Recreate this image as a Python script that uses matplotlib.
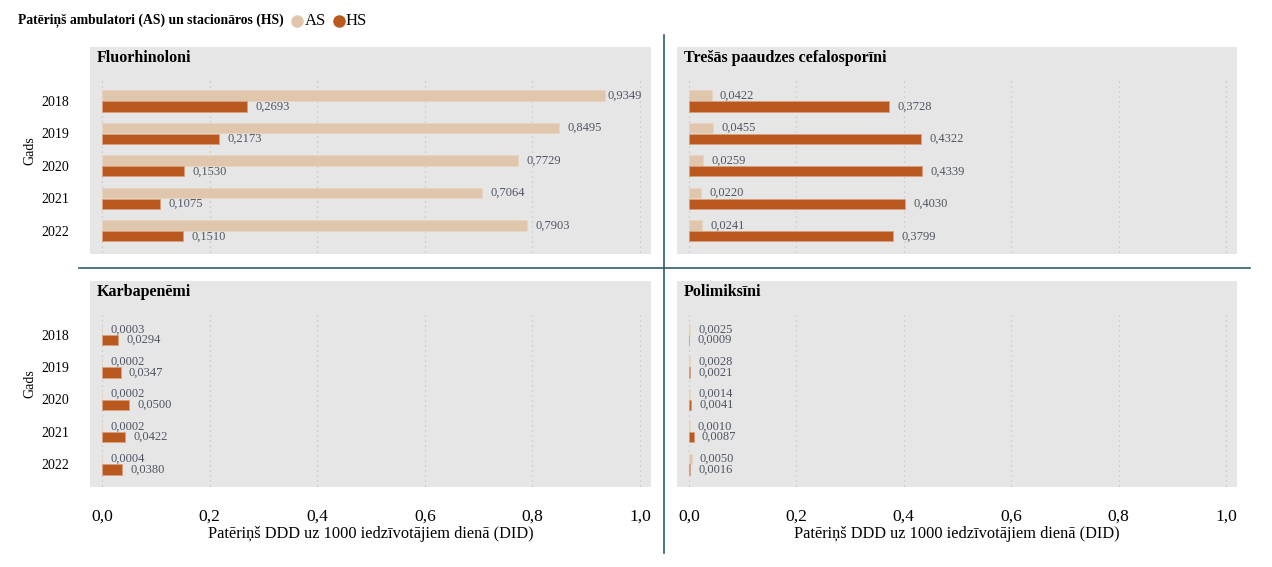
import numpy as np
import matplotlib.pyplot as plt
from matplotlib.lines import Line2D

plt.rcParams["font.family"] = ["Liberation Serif", "DejaVu Serif"]

years = ["2018", "2019", "2020", "2021", "2022"]
panel_titles = ["Fluorhinoloni", "Trešās paaudzes cefalosporīni", "Karbapenēmi", "Polimiksīni"]
as_values = [
    [0.9349, 0.8495, 0.7729, 0.7064, 0.7903],
    [0.0422, 0.0455, 0.0259, 0.0220, 0.0241],
    [0.0003, 0.0002, 0.0002, 0.0002, 0.0004],
    [0.0025, 0.0028, 0.0014, 0.0010, 0.0050],
]
hs_values = [
    [0.2693, 0.2173, 0.1530, 0.1075, 0.1510],
    [0.3728, 0.4322, 0.4339, 0.4030, 0.3799],
    [0.0294, 0.0347, 0.0500, 0.0422, 0.0380],
    [0.0009, 0.0021, 0.0041, 0.0087, 0.0016],
]
x_ticks = [0.0, 0.2, 0.4, 0.6, 0.8, 1.0]

AS_COLOR = "#e0c6ad"
HS_COLOR = "#b9591f"
PANEL_BG = "#e6e6e6"
LABEL_COLOR = "#4f5562"
LINE_COLOR = "#2f5f66"

W, H = 1272, 567
fig = plt.figure(figsize=(W / 100, H / 100), dpi=100)

# panel boxes in pixels: (left, top, right, bottom)
boxes = [(90, 47, 651, 254), (677, 47, 1237, 254), (90, 281, 651, 487), (677, 281, 1237, 487)]


def fmt(v, digits=4):
    return f"{v:.{digits}f}".replace(".", ",")


def put_label(ax, value, ypos):
    # labels near the right edge are pulled in so they stay inside the panel
    off = 1.5 if value > 0.9 else 6
    ax.annotate(fmt(value), (value, ypos), xytext=(off, 0), textcoords="offset points",
                va="center", ha="left", fontsize=9, color=LABEL_COLOR)


for i, (l, t, r, b) in enumerate(boxes):
    ax = fig.add_axes([l / W, 1 - b / H, (r - l) / W, (b - t) / H])
    ax.set_facecolor(PANEL_BG)
    for s in ax.spines.values():
        s.set_visible(False)
    y = np.arange(len(years))
    ax.set_xlim(-0.0223, 1.0205)
    ax.set_ylim(4.71, -1.66)
    ax.vlines(x_ticks, -0.62, 4.71, colors="#c4c4c4", linestyles=(0, (1, 3)), linewidth=0.9, zorder=1)
    ax.barh(y - 0.165, as_values[i], height=0.32, color=AS_COLOR, edgecolor="#e8d6c4", linewidth=0.6, zorder=2)
    ax.barh(y + 0.165, hs_values[i], height=0.32, color=HS_COLOR, edgecolor="#d9a07e", linewidth=0.6, zorder=2)
    for yy, a, h in zip(y, as_values[i], hs_values[i]):
        put_label(ax, a, yy - 0.165)
        put_label(ax, h, yy + 0.165)
    ax.text(7 / (r - l), 1 - 11 / (b - t), panel_titles[i], transform=ax.transAxes,
            fontsize=11.5, fontweight="bold", va="center", ha="left")

    ax.set_yticks(y)
    if i % 2 == 0:
        ax.set_yticklabels(years, fontsize=10)
        ax.tick_params(axis="y", length=0, pad=15)
        ax.set_ylabel("Gads", fontsize=10)
        ax.yaxis.set_label_coords(-54 / (r - l), 0.5)
    else:
        ax.tick_params(axis="y", length=0, labelleft=False)

    ax.set_xticks(x_ticks)
    if i >= 2:
        ax.set_xticklabels([fmt(v, 1) for v in x_ticks], fontsize=12.6)
        ax.tick_params(axis="x", length=0, pad=15.5)
        ax.set_xlabel("Patēriņš DDD uz 1000 iedzīvotājiem dienā (DID)", fontsize=11.8, labelpad=1)
    else:
        ax.tick_params(axis="x", length=0, labelbottom=False)

# divider lines
fig.add_artist(Line2D([664 / W, 664 / W], [1 - 35 / H, 1 - 553 / H], color=LINE_COLOR, linewidth=1.2))
fig.add_artist(Line2D([79 / W, 1250 / W], [1 - 268 / H, 1 - 268 / H], color=LINE_COLOR, linewidth=1.2))

# legend
fig.text(18 / W, 1 - 21 / H, "Patēriņš ambulatori (AS) un stacionāros (HS)", fontsize=9.85,
         fontweight="bold", va="center", ha="left")
fig.add_artist(Line2D([297 / W], [1 - 21 / H], marker="o", markersize=8, color=AS_COLOR, linestyle="none"))
fig.text(305 / W, 1 - 21 / H, "AS", fontsize=12, va="center", ha="left")
fig.add_artist(Line2D([339 / W], [1 - 21 / H], marker="o", markersize=8, color=HS_COLOR, linestyle="none"))
fig.text(346 / W, 1 - 21 / H, "HS", fontsize=12, va="center", ha="left")

fig.savefig("out.png", dpi=100, facecolor="white")
